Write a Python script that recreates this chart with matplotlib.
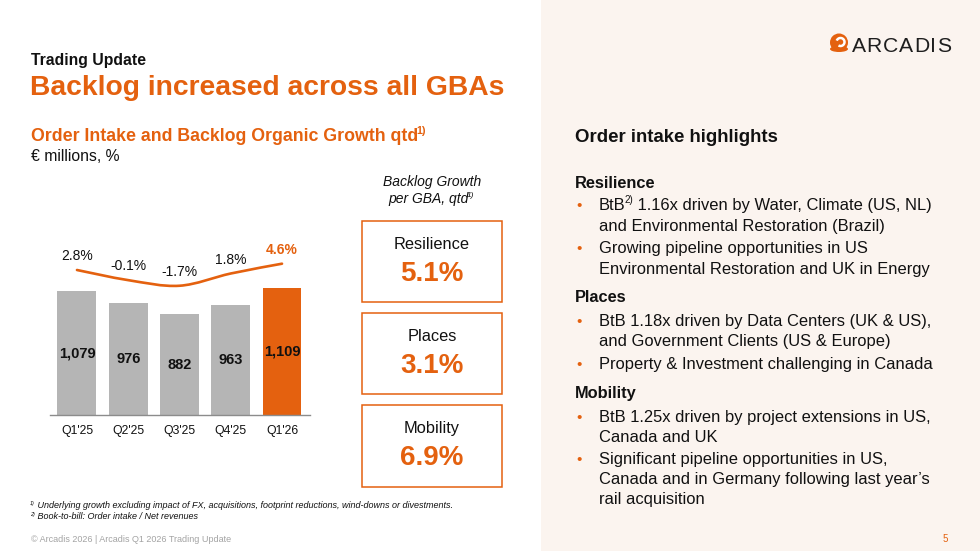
import numpy as np
import matplotlib
matplotlib.use('Agg')
import matplotlib.pyplot as plt
import matplotlib.patches as mpatches
from matplotlib.path import Path

plt.rcParams['font.family'] = ['Liberation Sans', 'DejaVu Sans']

# colours
ORANGE = '#E4610F'
GREY_BAR = '#B5B5B5'
PANEL = '#FBF4EF'
INK = '#111111'

# chart data
quarters = ["Q1'25", "Q2'25", "Q3'25", "Q4'25", "Q1'26"]
order_intake = [1079, 976, 882, 963, 1109]
organic_growth = [2.8, -0.1, -1.7, 1.8, 4.6]

gba_names = ['Resilience', 'Places', 'Mobility']
gba_backlog_growth = [5.1, 3.1, 6.9]

# right hand text: (kind, text) ; kind = head / bullet / cont
highlights = [
    ('head', 'Resilience'),
    ('bullet', [('BtB', False), ('2)', True), (' 1.16x driven by Water, Climate (US, NL)', False)]),
    ('cont', 'and Environmental Restoration (Brazil)'),
    ('bullet', 'Growing pipeline opportunities in US'),
    ('cont', 'Environmental Restoration and UK in Energy'),
    ('head', 'Places'),
    ('bullet', 'BtB 1.18x driven by Data Centers (UK & US),'),
    ('cont', 'and Government Clients (US & Europe)'),
    ('bullet', 'Property & Investment challenging in Canada'),
    ('head', 'Mobility'),
    ('bullet', 'BtB 1.25x driven by project extensions in US,'),
    ('cont', 'Canada and UK'),
    ('bullet', 'Significant pipeline opportunities in US,'),
    ('cont', 'Canada and in Germany following last year\u2019s'),
    ('cont', 'rail acquisition'),
]
hl_baselines = [188, 210, 231, 253, 274, 301.7, 326, 346, 369, 398, 421.7, 441.7, 464.3, 484.3, 504]

footnotes = [
    ('1)', ' Underlying growth excluding impact of FX, acquisitions, footprint reductions, wind-downs or divestments.'),
    ('2)', ' Book-to-bill: Order intake / Net revenues'),
]

fig = plt.figure(figsize=(9.8, 5.51), dpi=100)
fig.patch.set_facecolor('white')

# overlay axes in pixel coordinates for all slide text
ov = fig.add_axes([0, 0, 1, 1])
ov.set_xlim(0, 980)
ov.set_ylim(551, 0)
ov.axis('off')
ov.add_patch(mpatches.Rectangle((541, 0), 439, 551, facecolor=PANEL, edgecolor='none', zorder=0))

renderer = fig.canvas.get_renderer()


def rich(x, y, parts, size, ha='left', **kw):
    """left/centre aligned run of text pieces, some of them superscript"""
    items = []
    for txt, sup in parts:
        fs = size * 0.6 if sup else size
        dy = -0.40 * size / 0.72 if sup else 0
        t = ov.text(0, y + dy, txt, fontsize=fs, va='baseline', ha='left', **kw)
        w = t.get_window_extent(renderer).width
        items.append((t, w, sup))
    total = sum(w for _, w, _ in items)
    cx = x - total / 2 if ha == 'center' else x
    for t, w, sup in items:
        if sup:
            cx -= 1.5
        t.set_x(cx)
        cx += w


# header
ov.text(31, 65, 'Trading Update', fontsize=11.3, fontweight='bold', color=INK, va='baseline')
ov.text(30, 95, 'Backlog increased across all GBAs', fontsize=20.3, fontweight='bold', color=ORANGE, va='baseline')
rich(31, 141, [('Order Intake and Backlog Organic Growth qtd', False), ('1)', True)], 12.8,
     fontweight='bold', color=ORANGE)
ov.text(31, 161, '\u20ac millions, %', fontsize=11.3, color=INK, va='baseline')

# logo
ov.add_patch(mpatches.Circle((839, 42.5), 9, facecolor=ORANGE, edgecolor='none', zorder=3))
ov.add_patch(mpatches.Ellipse((839, 49), 18, 6, facecolor=ORANGE, edgecolor='none', zorder=3))
ov.add_patch(mpatches.Arc((840.5, 42), 8, 8, theta1=200, theta2=120, color='white', lw=1.8, zorder=4))
lx = 851.5
for ch in 'ARCADIS':
    t = ov.text(lx, 51.7, ch, fontsize=15.2, color='#1E1E1E', va='baseline')
    lx += t.get_window_extent(renderer).width + 0.9

# bar chart
ax = fig.add_axes([50 / 980, 1 - 415.3 / 551, 260 / 980, 175.3 / 551])
ax.patch.set_alpha(0)
x = np.arange(len(quarters))
bar_colors = [GREY_BAR] * (len(quarters) - 1) + [ORANGE]
ax.bar(x, order_intake, width=0.76, color=bar_colors, edgecolor='none')
ax.set_xlim(-0.526, 4.546)
ax.set_ylim(0, 1525)
for i, v in enumerate(order_intake):
    ax.text(i, v / 2, f'{v:,}', ha='center', va='center', fontsize=10.5, fontweight='bold', color=INK)
for s in ['top', 'right', 'left']:
    ax.spines[s].set_visible(False)
ax.spines['bottom'].set_color('#8C8C8C')
ax.spines['bottom'].set_linewidth(1)
ax.set_yticks([])
ax.set_xticks(x, quarters)
ax.tick_params(axis='x', length=0, pad=7, labelsize=8.8, labelcolor=INK)

# growth line (smooth curve through the points)
ax2 = ax.twinx()
ax2.set_ylim(-38.71, 11.37)
ax2.axis('off')
pts = np.column_stack([x, organic_growth]).astype(float)
verts = [pts[0]]
codes = [Path.MOVETO]
for i in range(len(pts) - 1):
    p0 = pts[i - 1] if i > 0 else pts[i]
    p3 = pts[i + 2] if i + 2 < len(pts) else pts[i + 1]
    verts += [pts[i] + (pts[i + 1] - p0) / 6, pts[i + 1] - (p3 - pts[i]) / 6, pts[i + 1]]
    codes += [Path.CURVE4] * 3
ax2.add_patch(mpatches.PathPatch(Path(verts, codes), facecolor='none', edgecolor=ORANGE,
                                 lw=1.9, capstyle='round'))
for i, g in enumerate(organic_growth):
    last = i == len(organic_growth) - 1
    ax2.annotate(f'{g:.1f}%', (i, g), xytext=(0, 10), textcoords='offset points',
                 ha='center', va='center', fontsize=10,
                 fontweight='bold' if last else 'normal',
                 color=ORANGE if last else INK)

# backlog growth per GBA boxes
ov.text(432, 186, 'Backlog Growth', fontsize=10, fontstyle='italic', color=INK, ha='center', va='baseline')
rich(432, 202.5, [('per GBA, qtd', False), ('1)', True)], 10, ha='center', fontstyle='italic', color=INK)
for i, (name, val) in enumerate(zip(gba_names, gba_backlog_growth)):
    top = 220.7 + i * 92.3
    ov.add_patch(mpatches.Rectangle((362.3, top), 139.4, 81.3, facecolor='white',
                                    edgecolor=ORANGE, lw=1.1, zorder=2))
    ov.text(432, top + 23.5, name, fontsize=11.8, color=INK, ha='center', va='center', zorder=3)
    ov.text(432, top + 53, f'{val:.1f}%', fontsize=20, fontweight='bold', color=ORANGE,
            ha='center', va='center', zorder=3)

# right panel
ov.text(575, 141.7, 'Order intake highlights', fontsize=13.4, fontweight='bold', color=INK, va='baseline')
for (kind, txt), yb in zip(highlights, hl_baselines):
    if kind == 'head':
        ov.text(575, yb, txt, fontsize=11.8, fontweight='bold', color=INK, va='baseline')
        continue
    if kind == 'bullet':
        ov.text(576, yb, '\u2022', fontsize=11, color=ORANGE, va='baseline')
    if isinstance(txt, list):
        rich(599, yb, txt, 11.9, color=INK)
    else:
        ov.text(599, yb, txt, fontsize=11.9, color=INK, va='baseline')

# footnotes and footer
for (mark, txt), yb in zip(footnotes, [508.3, 519.3]):
    rich(31.5, yb, [(mark, True), (txt, False)], 6.5, fontstyle='italic', color=INK)
ov.text(31, 542, '\u00a9 Arcadis 2026 | Arcadis Q1 2026 Trading Update', fontsize=6.5,
        color='#A3A3A3', va='baseline')
ov.text(943, 542, '5', fontsize=7, color=ORANGE, va='baseline')

fig.savefig('out.png', dpi=100)
